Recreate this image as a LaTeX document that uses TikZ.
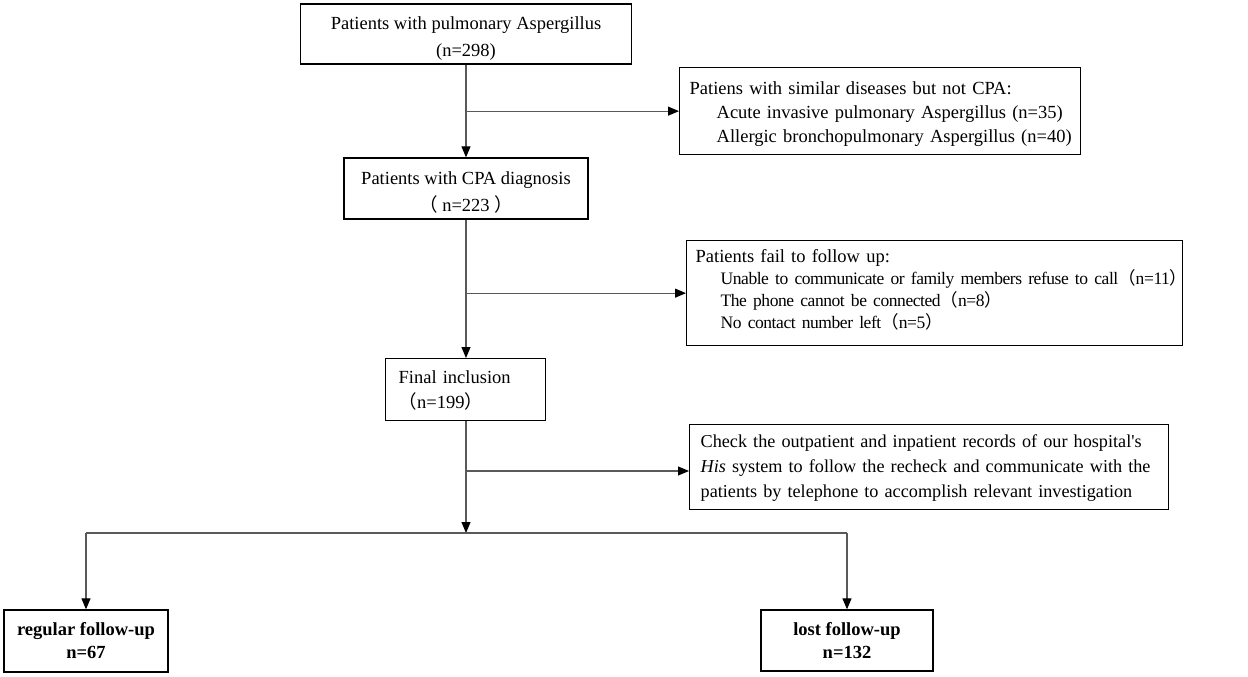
\documentclass[tikz,border=0pt]{standalone}
\usepackage{fontspec}
\setmainfont{Liberation Serif}
\newfontfamily\cjk{Noto Sans CJK SC}
\usetikzlibrary{arrows.meta}
\newcommand{\lp}{{\cjk （}}
\newcommand{\rp}{{\cjk ）}}
\newcommand{\toprule}[1]{\rule{0pt}{#1pt}}
\newcommand{\botrule}[1]{\rule[-#1pt]{0pt}{#1pt}}
\newcommand{\smallfs}{\fontsize{17.5}{21}\selectfont\addfontfeatures{LetterSpace=-2.5}}
\begin{document}
\begin{tikzpicture}[x=1pt,y=-1pt,
  box/.style={draw=black,line width=1.3pt,inner sep=0pt,fill=white},
  cbox/.style={box,align=center},
  lbox/.style={box,align=left,anchor=north west},
  line/.style={draw=black!65,line width=1.1pt},
  conn/.style={line,-{Triangle[length=11pt,width=9pt,color=black]}},
  fs/.style={font=\fontsize{18.5}{#1}\selectfont},
  fsb/.style={font=\fontsize{18.5}{#1}\selectfont\bfseries}]
\useasboundingbox (0,0) rectangle (1248,677);

\node[cbox,fs=27,minimum width=331pt,minimum height=60pt] (b1) at (466,34)
  {\toprule{21.6}Patients with pulmonary Aspergillus\\(n=298)};
\node[cbox,fs=27,minimum width=244pt,minimum height=61pt] (b2) at (466,188.5)
  {\toprule{20.6}Patients with CPA diagnosis\\\lp{} n=223 \rp};
\node[lbox,fs=24,text width=381pt,inner xsep=10pt,minimum height=87pt] (b3) at (679,67)
  {\mbox{\toprule{18.6}Patiens with similar diseases but not CPA:}\\
   \mbox{\hspace*{27pt}Acute invasive pulmonary Aspergillus (n=35)}\\
   \mbox{\hspace*{27pt}Allergic bronchopulmonary Aspergillus (n=40)}};
\node[lbox,fs=22,text width=478pt,inner xsep=9pt,minimum height=105pt] (b5) at (686,240)
  {\mbox{Patients fail to follow up:}\\
   \mbox{\smallfs\hspace*{25pt}Unable to communicate or family members refuse to call\lp n=11\rp}\\
   \mbox{\smallfs\hspace*{25pt}The phone cannot be connected\lp n=8\rp}\\
   \mbox{\smallfs\hspace*{25pt}No contact number left\lp n=5\rp\botrule{9}}};
\node[lbox,fs=25,text width=134pt,inner xsep=13pt,minimum height=62pt] (b4) at (385,358)
  {\mbox{\toprule{14.6}Final inclusion}\\\mbox{\lp n=199\rp}};
\node[lbox,font=\fontsize{18.2}{25}\selectfont,text width=457pt,inner xsep=11pt,minimum height=85pt] (b6) at (689,424)
  {\mbox{\toprule{14.2}Check the outpatient and inpatient records of our hospital\textquotesingle s}\\
   \mbox{\textit{His} system to follow the recheck and communicate with the}\\
   \mbox{patients by telephone to accomplish relevant investigation}};
\node[cbox,fsb=23,minimum width=164pt,minimum height=62pt] (b7) at (86,641)
  {regular follow-up\\n=67};
\node[cbox,fsb=23,minimum width=172pt,minimum height=61pt] (b8) at (847,640.5)
  {lost follow-up\\n=132};

\coordinate (split) at (466,533);
\coordinate (j3) at (466,471);

\draw[conn] (b1.south) -- (b2.north);
\draw[conn] (b1.south |- b3.west) -- (b3.west);
\draw[conn] (b2.south) -- (b2.south |- b4.north);
\draw[conn] (b2.south |- b5.west) -- (b5.west);
\draw[conn] (b4.south -| split) -- (split);
\draw[conn] (j3) -- (b6.west |- j3);
\draw[line] (b7.north |- split) -- (b8.north |- split);
\draw[conn] (b7.north |- split) -- (b7.north);
\draw[conn] (b8.north |- split) -- (b8.north);
\end{tikzpicture}
\end{document}
